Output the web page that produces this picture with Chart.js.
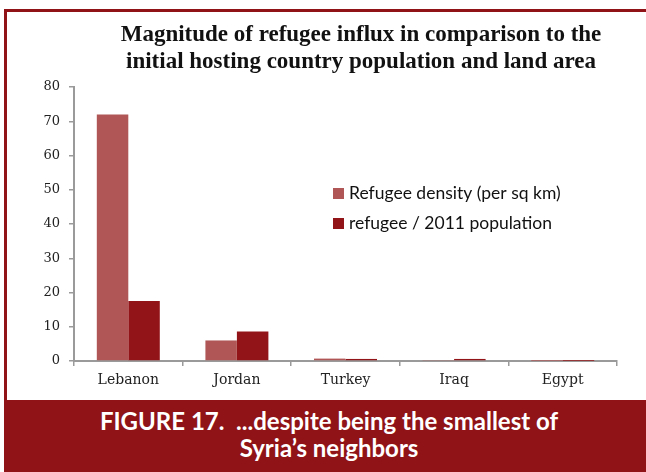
<!DOCTYPE html>
<html>
<head>
<meta charset="utf-8">
<script src="https://cdn.jsdelivr.net/npm/chart.js@4"></script>
<style>
  html, body { margin: 0; padding: 0; background: #fff; }
  #wrap { position: relative; width: 646px; height: 472px; overflow: hidden; }
  #frameTop { position: absolute; left: 4px; top: 9px; width: 642px; height: 3px; background: #8f1317; }
  #frameLeft { position: absolute; left: 4px; top: 9px; width: 3px; height: 392px; background: #8f1317; }
  #title { position: absolute; left: 60px; width: 602px; top: 20px; text-align: center;
           font: bold 23px "Liberation Serif", "DejaVu Serif", serif; line-height: 27px; color: #111; }
  #band { position: absolute; left: 4px; top: 400px; width: 642px; height: 72px; background: #8f1317;
          color: #fff; text-align: center; font: bold 24px "Lato", "Open Sans", sans-serif; line-height: 27px;
          padding-top: 7px; padding-left: 8px; box-sizing: border-box; }
  #chartBox { position: absolute; left: 0; top: 0; width: 646px; height: 400px; }
</style>
</head>
<body>
<div id="wrap">
  <div id="chartBox"><canvas id="refugeeChart"></canvas></div>
  <div id="frameTop"></div>
  <div id="frameLeft"></div>
  <div id="title">Magnitude of refugee influx in comparison to the<br>initial hosting country population and land area</div>
  <div id="band">FIGURE 17.&nbsp; ...despite being the smallest of<br>Syria’s neighbors</div>
</div>
<script>
const countries = ['Lebanon', 'Jordan', 'Turkey', 'Iraq', 'Egypt'];
const seriesNames = ['Refugee density (per sq km)', 'refugee / 2011 population'];
const densityValues = [72, 6, 0.7, 0.3, 0.02];
const populationValues = [17.5, 8.6, 0.6, 0.6, 0.02];
const yTicks = [0, 10, 20, 30, 40, 50, 60, 70, 80];

const densityColor = '#b05656';
const populationColor = '#931418';

// legend drawn inside the plot, like the original
const innerLegend = {
    id: 'innerLegend',
    afterDraw(chart) {
        const ctx = chart.ctx;
        ctx.save();
        ctx.font = '17.5px Lato, "Open Sans", sans-serif';
        ctx.textBaseline = 'middle';
        chart.data.datasets.forEach(function(ds, i) {
            const y = 193 + i * 30;
            ctx.fillStyle = ds.backgroundColor;
            ctx.fillRect(333, y - 5, 11, 11);
            ctx.fillStyle = '#111';
            ctx.fillText(ds.label, 349, y);
        });
        ctx.restore();
    }
};

const ctx = document.getElementById('refugeeChart').getContext('2d');
new Chart(ctx, {
    type: 'bar',
    data: {
        labels: countries,
        datasets: [
            { label: seriesNames[0], data: densityValues, backgroundColor: densityColor },
            { label: seriesNames[1], data: populationValues, backgroundColor: populationColor }
        ]
    },
    options: {
        responsive: true,
        maintainAspectRatio: false,
        animation: false,
        layout: { padding: { top: 87, right: 29, bottom: 0, left: 0 } },
        datasets: { bar: { barPercentage: 1, categoryPercentage: 0.58 } },
        scales: {
            x: {
                grid: { display: true, drawOnChartArea: false, offset: true, tickLength: 5, color: '#9a9a9a', lineWidth: 1.5 },
                border: { color: '#9a9a9a', width: 2 },
                ticks: { color: '#222', font: { family: '"DejaVu Serif", "Liberation Serif", serif', size: 14 }, padding: 6 },
                afterFit: function(scale) { scale.height = 39; }
            },
            y: {
                min: 0,
                max: 80,
                afterBuildTicks: function(scale) { scale.ticks = yTicks.map(v => ({ value: v })); },
                grid: { display: true, drawOnChartArea: false, tickLength: 5, color: '#9a9a9a', lineWidth: 1.5 },
                border: { color: '#9a9a9a', width: 2 },
                ticks: { color: '#222', font: { family: '"DejaVu Serif", "Liberation Serif", serif', size: 13 }, padding: 9 },
                afterFit: function(scale) { scale.width = 74; }
            }
        },
        plugins: {
            legend: { display: false },
            tooltip: { enabled: false },
            title: { display: false }
        }
    },
    plugins: [innerLegend]
});
</script>
</body>
</html>
